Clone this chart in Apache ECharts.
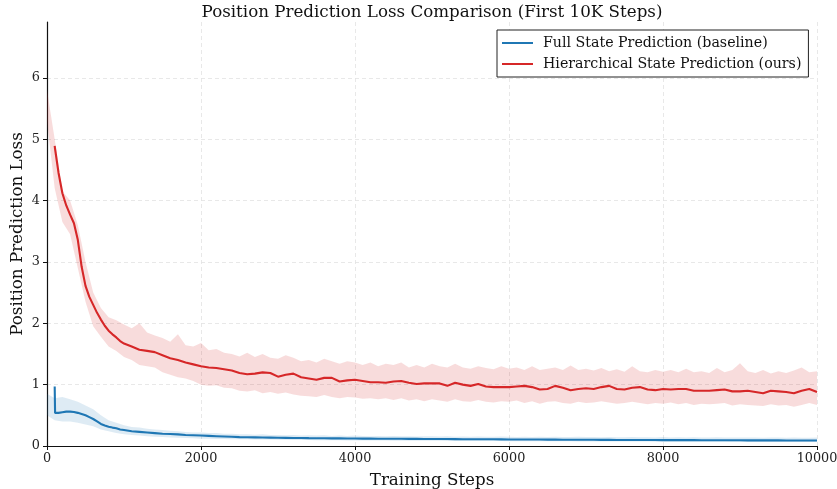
<!DOCTYPE html>
<html>
<head>
<meta charset="utf-8">
<script src="https://cdn.jsdelivr.net/npm/echarts@6/dist/echarts.min.js"></script>
<style>
html,body{margin:0;padding:0;background:#fff;}
#chart{width:837px;height:489px;}
</style>
</head>
<body>
<div id="chart"></div>
<script>
// ---- data ----
var titleText = 'Position Prediction Loss Comparison (First 10K Steps)';
var xTicks = [0, 2000, 4000, 6000, 8000, 10000];
var yTicks = [0, 1, 2, 3, 4, 5, 6];
var seriesNames = ['Full State Prediction (baseline)', 'Hierarchical State Prediction (ours)'];

// smoothed curves (moving average)
var smoothSteps = [100,105,150,200,250,300,350,400,450,500,550,600,650,700,750,800,850,900,950,1000,
1100,1200,1300,1400,1500,1600,1700,1800,1900,2000,2100,2200,2300,2400,2500,2600,2700,2800,2900,3000,
3100,3200,3300,3400,3500,3600,3700,3800,3900,4000,4100,4200,4300,4400,4500,4600,4700,4800,4900,5000,
5100,5200,5300,5400,5500,5600,5700,5800,5900,6000,6100,6200,6300,6400,6500,6600,6700,6800,6900,7000,
7100,7200,7300,7400,7500,7600,7700,7800,7900,8000,8100,8200,8300,8400,8500,8600,8700,8800,8900,9000,
9100,9200,9300,9400,9500,9600,9700,9800,9900,10000];

var redSmooth = [4.89,4.84,4.45,4.12,3.92,3.77,3.63,3.36,2.92,2.61,2.43,2.30,2.17,2.06,1.96,1.88,1.82,1.77,1.71,1.67,
1.62,1.57,1.55,1.53,1.48,1.43,1.40,1.36,1.33,1.30,1.28,1.27,1.25,1.23,1.19,1.17,1.18,1.20,1.19,1.13,
1.16,1.18,1.12,1.10,1.08,1.11,1.11,1.05,1.07,1.08,1.06,1.04,1.04,1.03,1.05,1.06,1.03,1.01,1.02,1.02,
1.02,0.98,1.03,1.00,0.98,1.01,0.97,0.96,0.96,0.96,0.97,0.98,0.96,0.92,0.93,0.98,0.95,0.91,0.93,0.94,
0.93,0.96,0.98,0.93,0.92,0.95,0.96,0.92,0.91,0.93,0.92,0.93,0.93,0.90,0.90,0.90,0.91,0.92,0.89,0.89,
0.90,0.88,0.86,0.90,0.89,0.88,0.86,0.90,0.93,0.88];

var blueSmooth = [0.97,0.54,0.54,0.55,0.56,0.56,0.555,0.54,0.52,0.50,0.47,0.44,0.40,0.36,0.335,0.315,0.30,0.29,0.27,0.26,
0.24,0.23,0.22,0.21,0.20,0.195,0.19,0.18,0.175,0.17,0.165,0.16,0.155,0.15,0.145,0.142,0.14,0.138,0.136,0.134,
0.133,0.131,0.13,0.128,0.127,0.126,0.125,0.124,0.123,0.122,0.121,0.12,0.119,0.119,0.118,0.117,0.116,0.116,0.115,0.114,
0.113,0.113,0.112,0.111,0.11,0.11,0.109,0.109,0.108,0.107,0.107,0.106,0.106,0.105,0.104,0.104,0.103,0.103,0.102,0.101,
0.101,0.1,0.1,0.099,0.099,0.098,0.098,0.097,0.097,0.096,0.096,0.096,0.095,0.095,0.094,0.094,0.094,0.093,0.093,0.093,
0.092,0.092,0.091,0.091,0.091,0.09,0.09,0.09,0.09,0.089];

// raw-loss envelope, sampled every 100 steps from 0 to 10000
var redUpper = [5.80,5.00,4.15,4.00,3.60,3.00,2.50,2.25,2.10,2.05,1.98,1.92,2.00,1.85,1.80,1.76,1.70,1.82,1.64,1.62,
1.68,1.56,1.58,1.52,1.50,1.46,1.52,1.45,1.50,1.44,1.42,1.48,1.44,1.38,1.40,1.36,1.42,1.38,1.34,1.38,
1.36,1.32,1.36,1.30,1.34,1.32,1.36,1.28,1.32,1.28,1.34,1.30,1.28,1.34,1.28,1.26,1.30,1.27,1.25,1.30,
1.26,1.28,1.24,1.30,1.24,1.26,1.28,1.24,1.31,1.24,1.26,1.23,1.27,1.22,1.25,1.21,1.30,1.22,1.20,1.24,
1.21,1.24,1.20,1.26,1.20,1.22,1.19,1.27,1.20,1.24,1.35,1.22,1.19,1.24,1.18,1.22,1.19,1.23,1.28,1.20,1.22];
var redLower = [5.30,4.20,3.65,3.45,2.90,2.35,1.95,1.78,1.62,1.55,1.45,1.40,1.32,1.30,1.28,1.20,1.16,1.12,1.10,1.06,
1.00,0.98,0.99,0.95,0.94,0.90,0.89,0.91,0.86,0.88,0.85,0.87,0.84,0.82,0.81,0.80,0.83,0.80,0.78,0.80,
0.79,0.77,0.78,0.76,0.78,0.75,0.78,0.74,0.76,0.73,0.76,0.74,0.72,0.76,0.73,0.72,0.75,0.72,0.71,0.73,
0.72,0.74,0.70,0.73,0.69,0.72,0.73,0.70,0.69,0.72,0.70,0.71,0.73,0.71,0.69,0.70,0.72,0.70,0.68,0.70,
0.69,0.71,0.68,0.70,0.67,0.69,0.68,0.69,0.70,0.66,0.68,0.67,0.66,0.65,0.68,0.66,0.67,0.64,0.67,0.70,0.67];
var blueUpper = [0.85,0.78,0.80,0.76,0.72,0.66,0.60,0.50,0.42,0.38,0.34,0.31,0.30,0.28,0.27,0.26,0.25,0.24,0.23,0.22,
0.22,0.21,0.21,0.20,0.20,0.19,0.19,0.185,0.19,0.18,0.18,0.175,0.18,0.17,0.175,0.17,0.175,0.165,0.17,0.165,
0.17,0.165,0.16,0.165,0.16,0.165,0.158,0.16,0.155,0.16,0.158,0.155,0.16,0.152,0.155,0.15,0.155,0.152,0.15,0.154,
0.15,0.148,0.152,0.147,0.15,0.146,0.15,0.148,0.145,0.15,0.145,0.147,0.143,0.146,0.144,0.142,0.146,0.142,0.144,0.14,
0.145,0.14,0.142,0.139,0.143,0.14,0.138,0.142,0.139,0.14,0.137,0.14,0.138,0.136,0.14,0.137,0.135,0.138,0.136,0.135,0.137];
var blueLower = [0.50,0.42,0.40,0.40,0.38,0.35,0.32,0.27,0.24,0.21,0.19,0.18,0.17,0.16,0.15,0.145,0.14,0.135,0.13,0.125,
0.12,0.118,0.116,0.114,0.112,0.11,0.108,0.107,0.105,0.104,0.10,0.10,0.098,0.097,0.096,0.095,0.094,0.093,0.092,0.091,
0.09,0.09,0.089,0.088,0.088,0.087,0.086,0.086,0.085,0.085,0.084,0.084,0.083,0.083,0.082,0.082,0.081,0.081,0.08,0.08,
0.079,0.079,0.078,0.078,0.077,0.077,0.076,0.076,0.076,0.075,0.075,0.074,0.074,0.074,0.073,0.073,0.072,0.072,0.072,0.071,
0.071,0.07,0.07,0.07,0.069,0.069,0.068,0.068,0.068,0.067,0.067,0.067,0.066,0.066,0.066,0.065,0.065,0.065,0.064,0.064,0.064];

// ---- build ----
var bandSteps = [];
for (var s = 0; s <= 10000; s += 100) bandSteps.push(s);
function pairs(xs, ys) { return xs.map(function (x, i) { return [x, ys[i]]; }); }

var BLUE = '#1f77b4', RED = '#d62728';
var FONT = 'DejaVu Serif';

function bandSeries(lo, hi, fill) {
  var data = bandSteps.map(function (x, i) { return [x, lo[i], hi[i]]; });
  return {
    type: 'custom', silent: true, z: 1, clip: true,
    data: data,
    encode: { x: 0, y: [1, 2] },
    renderItem: function (params, api) {
      if (params.dataIndex !== 0) return null;
      var top = [], bot = [];
      for (var i = 0; i < data.length; i++) {
        top.push(api.coord([data[i][0], data[i][2]]));
        bot.push(api.coord([data[i][0], data[i][1]]));
      }
      var pts = top.concat(bot.reverse());
      return {
        type: 'polygon',
        shape: { points: pts },
        style: { fill: fill, stroke: null }
      };
    }
  };
}

var series = [
  bandSeries(blueLower, blueUpper, 'rgba(31,119,180,0.15)'),
  bandSeries(redLower, redUpper, 'rgba(214,39,40,0.16)'),
  {
    name: seriesNames[0], type: 'line', data: pairs(smoothSteps, blueSmooth), symbol: 'none',
    lineStyle: { color: BLUE, width: 2.1 }, itemStyle: { color: BLUE }, z: 3
  }, {
    name: seriesNames[1], type: 'line', data: pairs(smoothSteps, redSmooth), symbol: 'none',
    lineStyle: { color: RED, width: 2.1 }, itemStyle: { color: RED }, z: 3
  }
];

var gridLine = { show: true, lineStyle: { color: '#e2e2e2', width: 0.8, type: [4, 3] } };

var chart = echarts.init(document.getElementById('chart'), null, { renderer: 'canvas' });
chart.setOption({
  animation: false,
  backgroundColor: '#fff',
  title: {
    text: titleText, left: 427, top: -1, textAlign: 'center',
    textStyle: { fontFamily: FONT, fontSize: 16.7, fontWeight: 'normal', color: '#111' }
  },
  legend: {
    data: seriesNames, orient: 'vertical', left: 497, top: 30,
    icon: 'rect', itemWidth: 31, itemHeight: 2, itemGap: 7,
    padding: [6, 7, 6, 5], borderColor: '#222', borderWidth: 1, borderRadius: 0,
    backgroundColor: '#fff',
    textStyle: { fontFamily: FONT, fontSize: 14.2, color: '#111', padding: [0, 0, 0, 5] }
  },
  grid: { left: 47, right: 20, top: 22, bottom: 43, containLabel: false, outerBoundsMode: 'none' },
  xAxis: {
    type: 'value', min: 0, max: 10000, interval: 2000,
    name: 'Training Steps', nameLocation: 'middle', nameGap: 26,
    nameTextStyle: { fontFamily: FONT, fontSize: 16.7, color: '#111' },
    axisLine: { show: true, onZero: false, lineStyle: { color: '#111', width: 1.2 } },
    axisTick: { show: true, inside: false, length: 4, lineStyle: { color: '#111', width: 1 } },
    axisLabel: { fontFamily: FONT, fontSize: 12.8, color: '#222', margin: 6,
      formatter: function (v) { return String(v); } },
    splitLine: gridLine
  },
  yAxis: {
    type: 'value', min: 0, max: 6.91, interval: 1,
    name: 'Position Prediction Loss', nameLocation: 'middle', nameGap: 21, nameMoveOverlap: false,
    nameTextStyle: { fontFamily: FONT, fontSize: 16.7, color: '#111' },
    axisLine: { show: true, onZero: false, lineStyle: { color: '#111', width: 1.2 } },
    axisTick: { show: true, inside: false, length: 4, lineStyle: { color: '#111', width: 1 }, customValues: yTicks },
    axisLabel: { fontFamily: FONT, fontSize: 12.8, color: '#222', margin: 7, customValues: yTicks,
      formatter: function (v) { return String(v); } },
    splitLine: gridLine
  },
  series: series
});
</script>
</body>
</html>
